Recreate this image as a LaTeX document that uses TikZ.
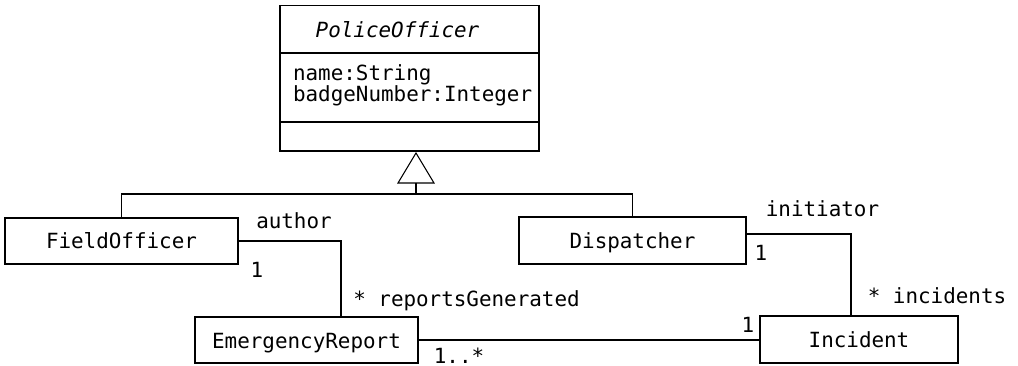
\documentclass[tikz,border=0pt]{standalone}
\usepackage{fontspec}
\setmonofont{DejaVu Sans Mono}
\newcommand{\umlfont}{\ttfamily\fontsize{20.9}{18}\selectfont}
\begin{document}
\begin{tikzpicture}[x=1pt,y=-1pt,line width=1.1pt,
  every node/.style={font=\umlfont,inner sep=0pt},
  cls/.style={draw,rectangle,text height=18pt,text depth=2pt,align=center},
  lbl/.style={anchor=base}]
\useasboundingbox (0,0) rectangle (1018,366);
% PoliceOfficer
\node[draw,rectangle,minimum width=259pt,minimum height=145.5pt] (po) at (409.5,78.25) {};
\coordinate (d1) at (0,53);
\coordinate (d2) at (0,122);
\draw (po.west |- d1) -- (po.east |- d1);
\draw (po.west |- d2) -- (po.east |- d2);
\node[lbl] (poname) at (397.5,38) {\itshape PoliceOfficer};
\node[anchor=base west,align=left] (attrs) at (292.5,102) {name:String\\badgeNumber:Integer};
% subclasses
\node[cls,minimum width=233pt,minimum height=46pt] (fo) at (121.5,241) {FieldOfficer};
\node[cls,minimum width=227pt,minimum height=47pt] (disp) at (632.5,240.5) {Dispatcher};
\node[cls,minimum width=223pt,minimum height=46pt] (er) at (306.5,340) {EmergencyReport};
\node[cls,minimum width=198pt,minimum height=47pt] (inc) at (859,339.5) {Incident};
% generalization
\coordinate (apex) at (416,153);
\coordinate (tb) at (416,183);
\coordinate (bar) at (416,194);
\draw (apex) -- ++(18,30) -- ++(-36,0) -- cycle;
\draw (tb) -- (bar);
\draw (fo.north) -- (fo.north |- bar) -- (disp.north |- bar) -- (disp.north);
% associations
\coordinate (c1) at (341,241);
\draw (fo.east) -- (c1) -- (c1 |- er.north);
\coordinate (c2) at (851,234);
\draw (c2 -| disp.east) -- (c2) -- (c2 |- inc.north);
\draw (er.east) -- (er.east -| inc.west);
% labels
\node[lbl] (l1) at (294,229) {author};
\node[lbl] (l2) at (257,278) {1};
\node[lbl] (l3) at (466.5,306) {* reportsGenerated};
\node[lbl] (l4) at (822.5,217) {initiator};
\node[lbl] (l5) at (761,261) {1};
\node[lbl] (l6) at (937,303) {* incidents};
\node[lbl] (l7) at (748,332) {1};
\node[lbl] (l8) at (459,363) {1..*};
\end{tikzpicture}
\end{document}
